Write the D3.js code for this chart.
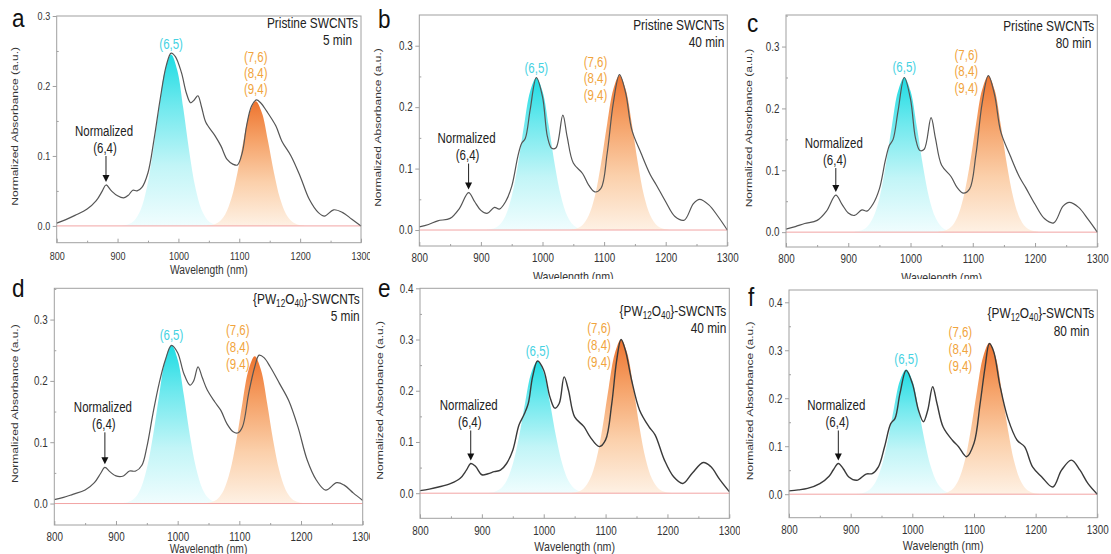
<!DOCTYPE html>
<html>
<head>
<meta charset="utf-8">
<script src="https://cdn.jsdelivr.net/npm/d3@7"></script>
<style>
  body { margin: 0; background: #fff; }
  svg { display: block; }
  text { font-family: "Liberation Sans", Arial, sans-serif; }
</style>
</head>
<body>
<svg id="chart" width="1111" height="554"></svg>
<script>
// ---- data ----
const wlTicks = [800, 900, 1000, 1100, 1200, 1300];
const wlMinor = [850, 950, 1050, 1150, 1250];
const panelLetters = ['a', 'b', 'c', 'd', 'e', 'f'];
const samples = ['pristine', 'pristine', 'pristine', 'pw', 'pw', 'pw'];
const times = ['5 min', '40 min', '80 min', '5 min', '40 min', '80 min'];
const cyanLabel = '(6,5)';
const orangeLabels = ['(7,6)', '(8,4)', '(9,4)'];
const yTicks3 = [0, 0.1, 0.2, 0.3];
const yTicks4 = [0, 0.1, 0.2, 0.3, 0.4];

// absorbance spectra [wavelength nm, normalized absorbance]
const specA = [[800,0.004],[815,0.009],[830,0.015],[850,0.024],[865,0.036],[875,0.05],[881,0.0585],[890,0.05],[900,0.043],[910,0.04],[918,0.044],[925,0.051],[932,0.05],[940,0.055],[950,0.076],[960,0.124],[970,0.181],[980,0.229],[988,0.247],[995,0.242],[1005,0.219],[1013,0.19],[1020,0.176],[1026,0.18],[1032,0.186],[1038,0.17],[1045,0.148],[1060,0.129],[1070,0.114],[1080,0.095],[1090,0.088],[1097,0.087],[1105,0.105],[1112,0.143],[1120,0.171],[1128,0.18],[1135,0.176],[1145,0.164],[1160,0.143],[1170,0.121],[1185,0.1],[1200,0.071],[1215,0.038],[1230,0.019],[1240,0.014],[1255,0.023],[1270,0.019],[1285,0.0095],[1300,0]];
const specB = [[800,0.005],[815,0.009],[830,0.015],[850,0.019],[865,0.035],[880,0.061],[890,0.046],[900,0.032],[910,0.027],[922,0.037],[930,0.034],[940,0.046],[950,0.071],[960,0.12],[966,0.141],[972,0.149],[980,0.196],[990,0.248],[1000,0.217],[1008,0.152],[1015,0.133],[1022,0.134],[1033,0.187],[1040,0.152],[1050,0.109],[1065,0.092],[1075,0.073],[1085,0.062],[1095,0.068],[1105,0.125],[1115,0.207],[1125,0.253],[1135,0.223],[1145,0.163],[1160,0.125],[1175,0.09],[1185,0.073],[1200,0.046],[1215,0.022],[1230,0.016],[1245,0.043],[1255,0.05],[1270,0.041],[1285,0.022],[1300,0]];
const specC = [[800,0.005],[815,0.009],[830,0.014],[850,0.019],[865,0.034],[880,0.06],[890,0.045],[900,0.031],[910,0.027],[922,0.036],[930,0.034],[940,0.046],[950,0.07],[960,0.118],[966,0.14],[972,0.15],[980,0.196],[990,0.25],[1000,0.215],[1008,0.152],[1015,0.132],[1022,0.134],[1033,0.185],[1040,0.152],[1050,0.108],[1065,0.09],[1075,0.072],[1085,0.063],[1095,0.07],[1105,0.125],[1115,0.208],[1125,0.253],[1135,0.222],[1145,0.162],[1160,0.124],[1175,0.089],[1185,0.072],[1200,0.045],[1215,0.022],[1230,0.015],[1245,0.042],[1255,0.048],[1270,0.04],[1285,0.021],[1300,0]];
const specD = [[800,0.0065],[815,0.01],[830,0.015],[850,0.022],[865,0.034],[875,0.049],[882,0.059],[890,0.052],[900,0.045],[912,0.045],[922,0.053],[932,0.053],[942,0.0625],[950,0.092],[960,0.147],[970,0.196],[980,0.234],[990,0.258],[1000,0.246],[1010,0.212],[1020,0.193],[1026,0.2],[1033,0.223],[1040,0.205],[1048,0.185],[1060,0.166],[1070,0.152],[1080,0.13],[1090,0.117],[1097,0.115],[1105,0.125],[1115,0.179],[1125,0.223],[1132,0.242],[1140,0.238],[1150,0.223],[1165,0.196],[1180,0.168],[1195,0.125],[1210,0.071],[1225,0.038],[1240,0.022],[1258,0.034],[1270,0.03],[1285,0.017],[1300,0.005]];
const specE = [[800,0.005],[815,0.008],[830,0.012],[850,0.019],[865,0.029],[875,0.045],[882,0.058],[890,0.052],[900,0.036],[910,0.038],[920,0.042],[930,0.045],[940,0.058],[950,0.084],[960,0.133],[968,0.153],[975,0.175],[982,0.227],[990,0.258],[1000,0.24],[1010,0.188],[1018,0.166],[1025,0.175],[1033,0.227],[1040,0.201],[1050,0.149],[1065,0.13],[1075,0.11],[1090,0.091],[1100,0.104],[1110,0.175],[1118,0.26],[1125,0.3],[1132,0.279],[1142,0.221],[1155,0.162],[1170,0.13],[1180,0.114],[1195,0.065],[1210,0.032],[1225,0.019],[1240,0.039],[1258,0.06],[1270,0.052],[1285,0.026],[1300,0.003]];
const specF = [[800,0.007],[815,0.009],[830,0.012],[850,0.022],[865,0.0375],[872,0.051],[880,0.064],[888,0.053],[897,0.036],[910,0.029],[925,0.042],[935,0.043],[945,0.057],[955,0.099],[965,0.147],[972,0.158],[980,0.21],[990,0.258],[1000,0.231],[1010,0.175],[1018,0.151],[1025,0.175],[1033,0.224],[1040,0.189],[1050,0.14],[1065,0.1125],[1075,0.099],[1088,0.078],[1100,0.106],[1110,0.189],[1118,0.265],[1125,0.314],[1132,0.297],[1142,0.227],[1155,0.158],[1170,0.1125],[1182,0.099],[1195,0.057],[1210,0.036],[1228,0.015],[1242,0.05],[1258,0.071],[1272,0.05],[1285,0.022],[1300,0]];

// shaded (6,5) components
const cyanA = [[908,0.0006],[918,0.0024],[928,0.0081],[938,0.023],[948,0.054],[958,0.105],[968,0.168],[978,0.223],[988,0.245],[998,0.223],[1008,0.168],[1018,0.105],[1028,0.054],[1038,0.023],[1048,0.0081],[1058,0.0024],[1068,0.0006]];
const cyanB = [[910,0.0006],[920,0.0024],[930,0.0082],[940,0.0233],[950,0.055],[960,0.106],[970,0.17],[980,0.226],[990,0.248],[1000,0.226],[1010,0.17],[1020,0.106],[1030,0.055],[1040,0.0233],[1050,0.0082],[1060,0.0024],[1070,0.0006]];
const cyanC = [[910,0.0006],[920,0.0025],[930,0.0083],[940,0.0235],[950,0.055],[960,0.107],[970,0.171],[980,0.228],[990,0.25],[1000,0.228],[1010,0.171],[1020,0.107],[1030,0.055],[1040,0.0235],[1050,0.0083],[1060,0.0025],[1070,0.0006]];
const cyanD = [[910,0.0006],[920,0.0025],[930,0.0085],[940,0.0243],[950,0.057],[960,0.11],[970,0.177],[980,0.235],[990,0.258],[1000,0.235],[1010,0.177],[1020,0.11],[1030,0.057],[1040,0.0243],[1050,0.0085],[1060,0.0025],[1070,0.0006]];
const cyanE = [[910,0.0006],[920,0.0025],[930,0.0085],[940,0.0243],[950,0.057],[960,0.11],[970,0.177],[980,0.235],[990,0.258],[1000,0.235],[1010,0.177],[1020,0.11],[1030,0.057],[1040,0.0243],[1050,0.0085],[1060,0.0025],[1070,0.0006]];
const cyanF = [[910,0.0006],[920,0.0025],[930,0.0086],[940,0.0244],[950,0.057],[960,0.111],[970,0.178],[980,0.237],[990,0.26],[1000,0.237],[1010,0.178],[1020,0.111],[1030,0.057],[1040,0.0244],[1050,0.0086],[1060,0.0025],[1070,0.0006]];

// shaded (7,6)/(8,4)/(9,4) components
const orangeA = [[1047,0.0004],[1057,0.0017],[1067,0.0059],[1077,0.0167],[1087,0.039],[1097,0.076],[1107,0.122],[1117,0.162],[1127,0.178],[1137,0.162],[1147,0.122],[1157,0.076],[1167,0.039],[1177,0.0167],[1187,0.0059],[1197,0.0017],[1207,0.0004]];
const orangeB = [[1045,0.0006],[1055,0.0025],[1065,0.0083],[1075,0.0237],[1085,0.055],[1095,0.108],[1105,0.173],[1115,0.229],[1125,0.252],[1135,0.229],[1145,0.173],[1155,0.108],[1165,0.055],[1175,0.0237],[1185,0.0083],[1195,0.0025],[1205,0.0006]];
const orangeC = [[1045,0.0006],[1055,0.0025],[1065,0.0083],[1075,0.0238],[1085,0.056],[1095,0.108],[1105,0.173],[1115,0.23],[1125,0.253],[1135,0.23],[1145,0.173],[1155,0.108],[1165,0.056],[1175,0.0238],[1185,0.0083],[1195,0.0025],[1205,0.0006]];
const orangeD = [[1045,0.0006],[1055,0.0024],[1065,0.0079],[1075,0.0226],[1085,0.053],[1095,0.102],[1105,0.164],[1115,0.218],[1125,0.24],[1135,0.218],[1145,0.164],[1155,0.102],[1165,0.053],[1175,0.0226],[1185,0.0079],[1195,0.0024],[1205,0.0006]];
const orangeE = [[1045,0.0007],[1055,0.0029],[1065,0.0099],[1075,0.0282],[1085,0.066],[1095,0.128],[1105,0.206],[1115,0.273],[1125,0.3],[1135,0.273],[1145,0.206],[1155,0.128],[1165,0.066],[1175,0.0282],[1185,0.0099],[1195,0.0029],[1205,0.0007]];
const orangeF = [[1045,0.0008],[1055,0.0031],[1065,0.0104],[1075,0.0296],[1085,0.069],[1095,0.135],[1105,0.216],[1115,0.287],[1125,0.315],[1135,0.287],[1145,0.216],[1155,0.135],[1165,0.069],[1175,0.0296],[1185,0.0104],[1195,0.0031],[1205,0.0008]];

const spectra = [specA, specB, specC, specD, specE, specF];
const cyanPeaks = [cyanA, cyanB, cyanC, cyanD, cyanE, cyanF];
const orangePeaks = [orangeA, orangeB, orangeC, orangeD, orangeE, orangeF];

// ---- layout of the six panels (pixels) ----
const layout = [
  { cell: [0, 0, 370, 279], frame: [56.7, 16, 361, 242.7], yDom: [-0.024, 0.3], yTicks: yTicks3,
    letter: [12, 27], sampleY: 23, timeY: 40, timeInset: 6, orange: { dx: 0, y: 57, gap: 16 },
    xLab: 13.5, xTitle: 26.5, xTitleSize: 12.5, yTitleX: 15, tick: 11, arrow: 26 },
  { cell: [370, 0, 370, 279], frame: [419.3, 15, 727.3, 246], yDom: [-0.026, 0.35], yTicks: yTicks3,
    letter: [378, 28], sampleY: 25, timeY: 42, timeInset: 0, orange: { dx: -24, y: 62, gap: 16.5 },
    xLab: 11, xTitle: 30, xTitleSize: 13, yTitleX: 378, tick: 12, arrow: 26 },
  { cell: [740, 0, 371, 279], frame: [786, 15, 1097.3, 247], yDom: [-0.024, 0.351], yTicks: yTicks3,
    letter: [747, 32], sampleY: 26, timeY: 43, timeInset: 3, orange: { dx: -22, y: 55, gap: 16.5 },
    xLab: 11, xTitle: 30, xTitleSize: 13, yTitleX: 749, tick: 12, arrow: 24 },
  { cell: [0, 279, 370, 275], frame: [54.3, 288.3, 362.7, 525], yDom: [-0.035, 0.351], yTicks: yTicks3,
    letter: [12, 297], sampleY: 299, timeY: 316, timeInset: 0, orange: { dx: -17, y: 330, gap: 17 },
    xLab: 11.5, xTitle: 23.5, xTitleSize: 12.5, yTitleX: 15, tick: 12, arrow: 32 },
  { cell: [370, 279, 370, 275], frame: [420, 288.3, 729.3, 518.3], yDom: [-0.049, 0.4], yTicks: yTicks4,
    letter: [378, 297], sampleY: 311, timeY: 328, timeInset: 0, orange: { dx: -22, y: 328, gap: 17 },
    xLab: 12, xTitle: 28, xTitleSize: 13, yTitleX: 380, tick: 12, arrow: 30 },
  { cell: [740, 279, 371, 275], frame: [789, 290, 1097.3, 517.7], yDom: [-0.049, 0.4256], yTicks: yTicks4,
    letter: [748, 306], sampleY: 313, timeY: 331, timeInset: 5, orange: { dx: -29, y: 332, gap: 17 },
    xLab: 12, xTitle: 28, xTitleSize: 13, yTitleX: 750, tick: 12, arrow: 30 }
];

const SX = 0.82; // the figure's lettering is a little condensed

const svg = d3.select('#chart');
const defs = svg.append('defs');

function gradient(id, stops) {
  const g = defs.append('linearGradient').attr('id', id)
    .attr('x1', 0).attr('y1', 0).attr('x2', 0).attr('y2', 1);
  stops.forEach(([o, c]) => g.append('stop').attr('offset', o).attr('stop-color', c));
}
gradient('cyanFill', [[0, '#1edce3'], [0.3, '#70e9ee'], [0.65, '#c2f5f7'], [1, '#f0fdfe']]);
gradient('orangeFill', [[0, '#ee742f'], [0.3, '#f5a167'], [0.65, '#fbd0ab'], [1, '#fef1e4']]);

// text helper: condensed lettering centred on (x, y)
function label(g, x, y, str, size, color, anchor) {
  return g.append('text')
    .attr('transform', `translate(${x},${y}) scale(${SX},1)`)
    .attr('dy', '0.35em').attr('text-anchor', anchor || 'middle')
    .attr('font-size', size).attr('fill', color).text(str);
}

const maxPoint = pts => pts.reduce((m, d) => d[1] > m[1] ? d : m);

layout.forEach((p, i) => {
  const [cx, cy, cw, ch] = p.cell;
  defs.append('clipPath').attr('id', 'cell' + i)
    .append('rect').attr('x', cx).attr('y', cy).attr('width', cw).attr('height', ch);
  const g = svg.append('g').attr('clip-path', `url(#cell${i})`);

  const [L, T, R, B] = p.frame;
  const x = d3.scaleLinear().domain([800, 1300]).range([L, R]);
  const y = d3.scaleLinear().domain(p.yDom).range([B, T]);

  const area = d3.area().x(d => x(d[0])).y0(y(0)).y1(d => y(d[1])).curve(d3.curveCatmullRom);
  const line = d3.line().x(d => x(d[0])).y(d => y(d[1])).curve(d3.curveCatmullRom.alpha(0.5));

  // shaded components
  g.append('path').datum(cyanPeaks[i]).attr('d', area).attr('fill', 'url(#cyanFill)');
  g.append('path').datum(orangePeaks[i]).attr('d', area).attr('fill', 'url(#orangeFill)');

  // zero line
  g.append('line').attr('x1', L).attr('x2', R).attr('y1', y(0)).attr('y2', y(0))
    .attr('stroke', '#f2a4a4').attr('stroke-width', 1);

  // spectrum
  g.append('path').datum(spectra[i]).attr('d', line)
    .attr('fill', 'none').attr('stroke', i >= 4 ? '#3a3a3a' : '#555')
    .attr('stroke-width', i >= 4 ? 1.4 : 1.2).attr('stroke-linejoin', 'round');

  // frame
  g.append('rect').attr('x', L).attr('y', T).attr('width', R - L).attr('height', B - T)
    .attr('fill', 'none').attr('stroke', '#a0a0a0').attr('stroke-width', 1);

  // axes
  const xAxis = g.append('g').attr('transform', `translate(0,${B})`)
    .call(d3.axisBottom(x).tickValues(wlTicks).tickSizeInner(-4).tickSizeOuter(0)
      .tickPadding(p.xLab - 4).tickFormat(d3.format('d')));
  const xMinor = g.append('g').attr('transform', `translate(0,${B})`)
    .call(d3.axisBottom(x).tickValues(wlMinor).tickSizeInner(-2).tickSizeOuter(0).tickFormat(''));
  const yMinorVals = d3.range(0.05, p.yDom[1], 0.1);
  const yAxis = g.append('g').attr('transform', `translate(${L},0)`)
    .call(d3.axisLeft(y).tickValues(p.yTicks).tickSizeInner(4).tickSizeOuter(0).tickPadding(4)
      .tickFormat(d3.format('.1f')));
  const yMinor = g.append('g').attr('transform', `translate(${L},0)`)
    .call(d3.axisLeft(y).tickValues(yMinorVals).tickSizeInner(-2).tickSizeOuter(0).tickFormat(''));
  [xAxis, xMinor, yAxis, yMinor].forEach(a => {
    a.select('.domain').remove();
    a.selectAll('line').attr('stroke', '#a0a0a0');
    a.selectAll('text').attr('fill', '#333').attr('transform', `scale(${SX},1)`)
      .style('font-size', p.tick + 'px')
      .style('font-family', '"Liberation Sans", Arial, sans-serif');
  });

  // axis titles
  label(g, (L + R) / 2, B + p.xTitle, 'Wavelength (nm)', p.xTitleSize, '#333');
  g.append('text')
    .attr('transform', `translate(${p.yTitleX},${(T + B) / 2 - 3}) rotate(-90) scale(1,${SX})`)
    .attr('dy', '0.35em').attr('text-anchor', 'middle').attr('font-size', 12).attr('fill', '#333')
    .text('Normalized Absorbance (a.u.)');

  // panel letter
  g.append('text').attr('transform', `translate(${p.letter[0]},${p.letter[1]}) scale(0.9,1)`)
    .attr('font-size', 25).attr('fill', '#111').text(panelLetters[i]);

  // sample name and time
  const title = label(g, R - 3, p.sampleY, '', 14.5, '#222', 'end');
  if (samples[i] === 'pristine') {
    title.text('Pristine SWCNTs');
  } else {
    title.append('tspan').text('{PW');
    title.append('tspan').attr('dy', 3).attr('font-size', 10).text('12');
    title.append('tspan').attr('dy', -3).text('O');
    title.append('tspan').attr('dy', 3).attr('font-size', 10).text('40');
    title.append('tspan').attr('dy', -3).text('}-SWCNTs');
  }
  label(g, R - 3 - p.timeInset, p.timeY, times[i], 14.5, '#222', 'end');

  // (6,5) label over the cyan component
  const cTop = maxPoint(cyanPeaks[i]);
  label(g, x(cTop[0]), y(cTop[1]) - 10, cyanLabel, 14, '#45d2e2');

  // (7,6)/(8,4)/(9,4) labels next to the orange component
  const oTop = maxPoint(orangePeaks[i]);
  orangeLabels.forEach((s, k) =>
    label(g, x(oTop[0]) + p.orange.dx, p.orange.y + k * p.orange.gap, s, 14, '#f1a43c'));

  // (6,4) marker: arrow onto the small peak near 880 nm
  const p64 = maxPoint(spectra[i].filter(d => d[0] > 860 && d[0] < 900));
  const ax = x(p64[0]);
  const tip = y(p64[1]) - 3;
  g.append('line').attr('x1', ax).attr('x2', ax).attr('y1', tip - p.arrow).attr('y2', tip - 5)
    .attr('stroke', '#222').attr('stroke-width', 1);
  g.append('path').attr('d', `M${ax - 3.5},${tip - 7} L${ax + 3.5},${tip - 7} L${ax},${tip} Z`)
    .attr('fill', '#111');
  label(g, ax - 1, tip - p.arrow - 8, '(6,4)', 14, '#222');
  label(g, ax - 2, tip - p.arrow - 25, 'Normalized', 14, '#222');
});
</script>
</body>
</html>
